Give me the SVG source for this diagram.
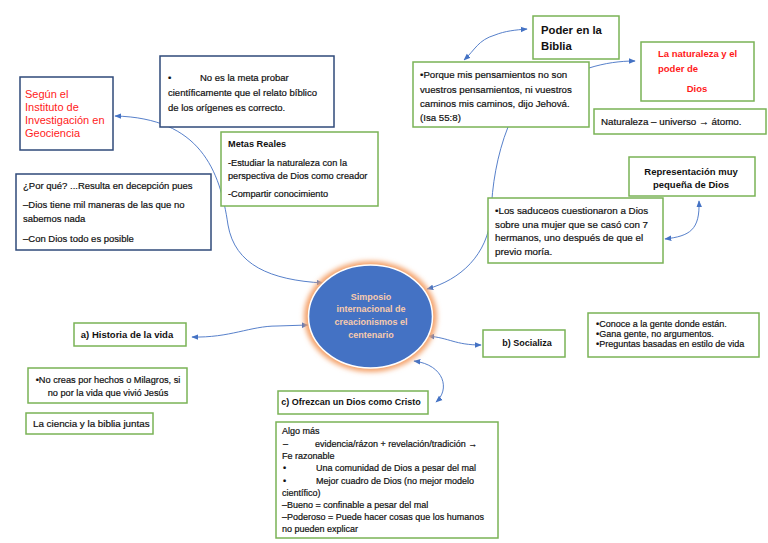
<svg xmlns="http://www.w3.org/2000/svg" width="768" height="543" viewBox="0 0 768 543">
<defs>
<marker id="ah" viewBox="0 0 10 10" refX="9" refY="5" markerWidth="7" markerHeight="7" orient="auto-start-reverse" markerUnits="userSpaceOnUse">
<path d="M0,1 L10,5 L0,9 z" fill="#4472C4"/>
</marker>
<filter id="glow" x="-20%" y="-20%" width="140%" height="140%">
<feGaussianBlur stdDeviation="2.5"/>
</filter>
<style>
.nv{fill:#fff;stroke:#2F4A7A;stroke-width:1.5}
.gr{fill:#fff;stroke:#7AB356;stroke-width:1.5}
.t{font-family:"Liberation Sans",Arial,sans-serif;fill:#111;stroke:#111;stroke-width:0.2}
.b{font-weight:bold;stroke-width:0}
.red{fill:#FF1A1A;stroke:none}
.c{stroke:#4472C4;stroke-width:0.9;fill:none}
.ct{font-family:"Liberation Sans",Arial,sans-serif;font-weight:bold;fill:#F8CBAD}
</style>
</defs>
<rect width="768" height="543" fill="#fff"/>

<g id="connectors">
<path class="c" d="M115,116 C200,118 220,170 228,225 C235,265 270,280 323,283" marker-start="url(#ah)" marker-end="url(#ah)"/>
<path class="c" d="M192,337 C230,338 250,326 277,326 L308,325" marker-start="url(#ah)" marker-end="url(#ah)"/>
<path class="c" d="M428,336 C450,338 455,345 481,345" marker-start="url(#ah)" marker-end="url(#ah)"/>
<path class="c" d="M414,361 C445,365 450,390 436,402" marker-start="url(#ah)" marker-end="url(#ah)"/>
<path class="c" d="M508,127 C497,155 492,185 491,215 C488,255 460,280 427,289" marker-end="url(#ah)"/>
<path class="c" d="M464,60 C475,50 478,40 495,35 C505,31 515,30 527,29" marker-start="url(#ah)" marker-end="url(#ah)"/>
<path class="c" d="M589,68 C605,63 620,61 635,61" marker-end="url(#ah)"/>
<path class="c" d="M699,201 C700,230 690,236 665,239" marker-start="url(#ah)" marker-end="url(#ah)"/>
</g>

<g id="center">
<ellipse cx="370.5" cy="316.5" rx="66.5" ry="55.5" fill="#F4A36C" filter="url(#glow)"/>
<ellipse cx="370.5" cy="316.5" rx="62" ry="51.5" fill="#4472C4" stroke="#fff" stroke-width="1.5"/>
<g font-size="9" text-anchor="middle">
<text x="371" y="300" class="ct">Simposio</text>
<text x="371" y="312" class="ct">internacional de</text>
<text x="371" y="325" class="ct">creacionismos el</text>
<text x="371" y="338" class="ct">centenario</text>
</g>
</g>

<g id="segun">
<rect class="nv" x="20" y="77" width="93" height="73"/>
<text x="25" y="98" font-size="11" class="t red">Según el</text>
<text x="25" y="111" font-size="11" class="t red">Instituto de</text>
<text x="25" y="124" font-size="11" class="t red">Investigación en</text>
<text x="25" y="137" font-size="11" class="t red">Geociencia</text>
</g>

<g id="meta">
<rect class="nv" x="160" y="56" width="174" height="71"/>
<g font-size="9.5">
<text x="168" y="81" class="t">•</text>
<text x="200" y="81" class="t">No es la meta probar</text>
<text x="168" y="96" class="t">científicamente que el relato bíblico</text>
<text x="168" y="111" class="t">de los orígenes es correcto.</text>
</g>
</g>

<g id="metas-reales">
<rect class="gr" x="221" y="132" width="157" height="74"/>
<g font-size="9.2">
<text x="228" y="147" class="t b">Metas Reales</text>
<text x="228" y="166" class="t">-Estudiar la naturaleza con la</text>
<text x="228" y="179" class="t">perspectiva de Dios como creador</text>
<text x="228" y="197" class="t">-Compartir conocimiento</text>
</g>
</g>

<g id="porque">
<rect class="nv" x="16" y="174" width="195" height="76"/>
<g font-size="9.5">
<text x="23" y="189" class="t">¿Por qué? ...Resulta en decepción pues</text>
<text x="23" y="208" class="t">–Dios tiene mil maneras de las que no</text>
<text x="23" y="222" class="t">sabemos nada</text>
<text x="23" y="242" class="t">–Con Dios todo es posible</text>
</g>
</g>

<g id="poder">
<rect class="gr" x="533" y="16" width="86" height="43"/>
<text x="541" y="34" font-size="11.3" class="t b">Poder en la</text>
<text x="541" y="50" font-size="11.3" class="t b">Biblia</text>
</g>

<g id="pensamientos">
<rect class="gr" x="413" y="62" width="176" height="65"/>
<g font-size="9.7">
<text x="420" y="78" class="t">•Porque mis pensamientos no son</text>
<text x="420" y="93" class="t">vuestros pensamientos, ni vuestros</text>
<text x="420" y="107" class="t">caminos mis caminos, dijo Jehová.</text>
<text x="420" y="121" class="t">(Isa 55:8)</text>
</g>
</g>

<g id="naturaleza">
<rect class="gr" x="641" y="42" width="113" height="59"/>
<text x="658" y="57" font-size="9.5" class="t b red">La naturaleza y el</text>
<text x="658" y="72" font-size="9.5" class="t b red">poder de</text>
<text x="697" y="92" font-size="9.5" class="t b red" text-anchor="middle">Dios</text>
</g>

<g id="universo">
<rect class="gr" x="594" y="109" width="172" height="25"/>
<text x="601" y="125" font-size="9.8" class="t">Naturaleza – universo → átomo.</text>
</g>

<g id="representacion">
<rect class="gr" x="629" y="157" width="126" height="39"/>
<text x="691" y="175" font-size="9.5" class="t b" text-anchor="middle">Representación muy</text>
<text x="691" y="188" font-size="9.5" class="t b" text-anchor="middle">pequeña de Dios</text>
</g>

<g id="saduceos">
<rect class="gr" x="488" y="198" width="175" height="65"/>
<g font-size="9.8">
<text x="495" y="214" class="t">•Los saduceos cuestionaron a Dios</text>
<text x="495" y="228" class="t">sobre una mujer que se casó con 7</text>
<text x="495" y="241" class="t">hermanos, uno después de que el</text>
<text x="495" y="255" class="t">previo moría.</text>
</g>
</g>

<g id="historia">
<rect class="gr" x="74" y="323" width="112" height="23"/>
<text x="127" y="338" font-size="9.5" class="t b" text-anchor="middle">a) Historia de la vida</text>
</g>

<g id="no-creas">
<rect class="gr" x="28" y="368" width="159" height="35"/>
<text x="108" y="383" font-size="9.2" class="t" text-anchor="middle">•No creas por hechos o Milagros, si</text>
<text x="108" y="396" font-size="9.2" class="t" text-anchor="middle">no por la vida que vivió Jesús</text>
</g>

<g id="ciencia">
<rect class="gr" x="26" y="413" width="127" height="21"/>
<text x="33" y="427" font-size="9.8" class="t">La ciencia y la biblia juntas</text>
</g>

<g id="socializa">
<rect class="gr" x="483" y="330" width="82" height="27"/>
<text x="527" y="346" font-size="9" class="t b" text-anchor="middle">b) Socializa</text>
</g>

<g id="conoce">
<rect class="gr" x="588" y="313" width="171" height="44"/>
<g font-size="9">
<text x="596" y="327" class="t">•Conoce a la gente donde están.</text>
<text x="596" y="337" class="t">•Gana gente, no argumentos.</text>
<text x="596" y="347" class="t">•Preguntas basadas en estilo de vida</text>
</g>
</g>

<g id="ofrezcan">
<rect class="gr" x="278" y="391" width="150" height="23"/>
<text x="351" y="405" font-size="9" class="t b" text-anchor="middle">c) Ofrezcan un Dios como Cristo</text>
</g>

<g id="algo-mas">
<rect class="gr" x="276" y="422" width="222" height="116"/>
<g font-size="9">
<text x="282" y="434" class="t">Algo más</text>
<text x="283" y="447" class="t">–</text>
<text x="315" y="447" class="t">evidencia/rázon + revelación/tradición →</text>
<text x="282" y="459" class="t">Fe razonable</text>
<text x="283" y="471" class="t">•</text>
<text x="316" y="471" class="t">Una comunidad de Dios a pesar del mal</text>
<text x="283" y="484" class="t">•</text>
<text x="316" y="484" class="t">Mejor cuadro de Dios (no mejor modelo</text>
<text x="282" y="496" class="t">científico)</text>
<text x="282" y="508" class="t">–Bueno = confinable a pesar del mal</text>
<text x="282" y="520" class="t">–Poderoso = Puede hacer cosas que los humanos</text>
<text x="282" y="532" class="t">no pueden explicar</text>
</g>
</g>
</svg>
